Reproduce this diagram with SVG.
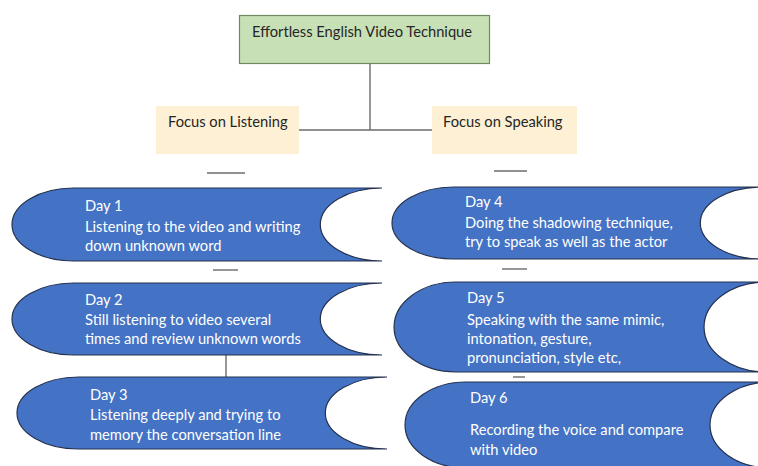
<svg xmlns="http://www.w3.org/2000/svg" width="758" height="466" viewBox="0 0 758 466">
  <style>
    .title { fill: #c8e0b6; stroke: #6f8a62; stroke-width: 1.2; }
    .focus { fill: #fdf0d4; }
    .day { fill: #4472c4; stroke: #25324f; stroke-width: 1.2; }
    .dark { font-family: Lato, "Open Sans", sans-serif; font-size: 14.7px; fill: #262626; }
    .light { font-family: Lato, "Open Sans", sans-serif; font-size: 14.7px; fill: #ffffff; }
    .link { stroke: #6b6b6b; stroke-width: 1.4; fill: none; }
  </style>
  <rect width="758" height="466" fill="#ffffff"/>

  <!-- connectors -->
  <g id="connectors" class="link">
    <line x1="370" y1="64" x2="370" y2="130"/>
    <line x1="299" y1="130" x2="432" y2="130"/>
    <line x1="207" y1="173" x2="245" y2="173"/>
    <line x1="494" y1="171" x2="527" y2="171"/>
    <line x1="213" y1="270" x2="238" y2="270"/>
    <line x1="502" y1="269" x2="527" y2="269"/>
    <line x1="226" y1="355" x2="226" y2="377"/>
    <line x1="513" y1="377" x2="525" y2="377"/>
  </g>

  <!-- root -->
  <g id="root">
    <rect class="title" x="239.5" y="15.5" width="250" height="48"/>
    <text class="dark" x="252" y="37">Effortless English Video Technique</text>
  </g>

  <!-- branches -->
  <g id="listening">
    <rect class="focus" x="156" y="106" width="143" height="48"/>
    <text class="dark" x="168" y="127">Focus on Listening</text>
  </g>
  <g id="speaking">
    <rect class="focus" x="432" y="106" width="145" height="48"/>
    <text class="dark" x="443" y="127">Focus on Speaking</text>
  </g>

  <!-- day steps: convex left end, concave right end -->
  <g id="day1">
    <path class="day" d="M73.7,188 H382 A61.7,36.5 0 0 0 382,261 H73.7 A61.7,36.5 0 0 1 73.7,188 Z"/>
    <text class="light" x="85" y="211">Day 1</text>
    <text class="light" x="85" y="232">Listening to the video and writing</text>
    <text class="light" x="85" y="251">down unknown word</text>
  </g>
  <g id="day2">
    <path class="day" d="M73.7,283 H382 A61.7,36 0 0 0 382,355 H73.7 A61.7,36 0 0 1 73.7,283 Z"/>
    <text class="light" x="85" y="305">Day 2</text>
    <text class="light" x="85" y="325">Still listening to video several</text>
    <text class="light" x="85" y="344">times and review unknown words</text>
  </g>
  <g id="day3">
    <path class="day" d="M78.7,377 H387 A61.7,36 0 0 0 387,449 H78.7 A61.7,36 0 0 1 78.7,377 Z"/>
    <text class="light" x="90" y="400">Day 3</text>
    <text class="light" x="90" y="420">Listening deeply and trying to</text>
    <text class="light" x="90" y="440">memory the conversation line</text>
  </g>
  <g id="day4">
    <path class="day" d="M453.7,187 H762 A61.7,36 0 0 0 762,259 H453.7 A61.7,36 0 0 1 453.7,187 Z"/>
    <text class="light" x="465" y="207">Day 4</text>
    <text class="light" x="465" y="228">Doing the shadowing technique,</text>
    <text class="light" x="465" y="247">try to speak as well as the actor</text>
  </g>
  <g id="day5">
    <path class="day" d="M456,282 H766 A62,45 0 0 0 766,372 H456 A62,45 0 0 1 456,282 Z"/>
    <text class="light" x="467" y="303">Day 5</text>
    <text class="light" x="467" y="325">Speaking with the same mimic,</text>
    <text class="light" x="467" y="344">intonation, gesture,</text>
    <text class="light" x="467" y="363">pronunciation, style etc,</text>
  </g>
  <g id="day6">
    <path class="day" d="M466,382 H771 A61,43 0 0 0 771,468 H466 A61,43 0 0 1 466,382 Z"/>
    <text class="light" x="470" y="403">Day 6</text>
    <text class="light" x="470" y="435">Recording the voice and compare</text>
    <text class="light" x="470" y="455">with video</text>
  </g>
</svg>
